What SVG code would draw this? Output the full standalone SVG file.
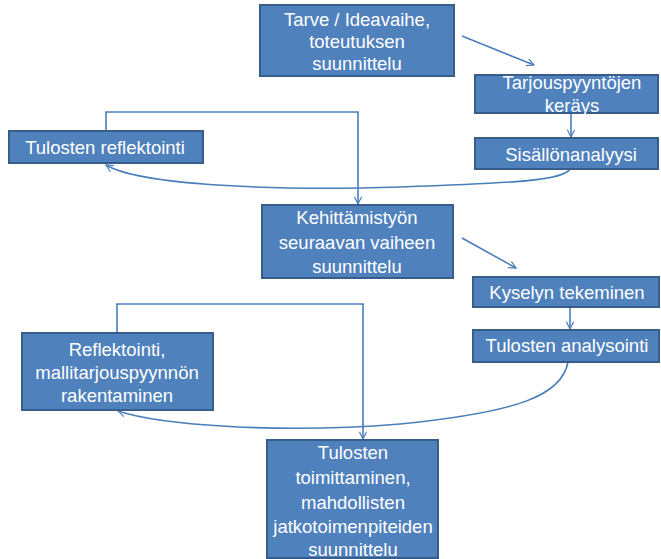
<svg xmlns="http://www.w3.org/2000/svg" width="661" height="559" viewBox="0 0 661 559">
<defs>
<marker id="arr" viewBox="0 0 10 10" refX="9" refY="5" markerWidth="9" markerHeight="9" markerUnits="userSpaceOnUse" orient="auto">
<path d="M1,1 L9,5 L1,9" fill="none" stroke="#4A7EBB" stroke-width="1.3"/>
</marker>
</defs>
<style>
.box{fill:#4F81BD;stroke:#385D8A;stroke-width:2}
.t{fill:#fff;font-family:"Liberation Sans",Arial,sans-serif;font-size:18.5px;text-anchor:middle}
.c{fill:none;stroke:#4A7EBB;stroke-width:1.6;marker-end:url(#arr)}
</style>
<rect width="661" height="559" fill="#fff"/>
<g id="connectors">
<path class="c" d="M462,36 L534,65"/>
<path class="c" d="M571,113 L571,137"/>
<path class="c" d="M570,169 C564,180 520,183 400,187 C270,191 140,185 106,165"/>
<path class="c" d="M106,131 L106,112 L358,112 L358,204"/>
<path class="c" d="M462,238 L516,268"/>
<path class="c" d="M570,307 L570,329"/>
<path class="c" d="M568,362 C562,395 520,412 400,424 C280,434 160,425 118,411"/>
<path class="c" d="M117,333 L117,304 L363,304 L363,439"/>
</g>
<g id="n1"><rect class="box" x="260" y="5" width="194" height="71"/>
<text class="t" x="357" y="26">Tarve / Ideavaihe,</text>
<text class="t" x="357" y="48">toteutuksen</text>
<text class="t" x="357" y="70">suunnittelu</text></g>
<g id="n2"><rect class="box" x="475" y="75" width="183" height="38"/>
<text class="t" x="572" y="89">Tarjouspyyntöjen</text>
<text class="t" x="572" y="112">keräys</text></g>
<g id="n3"><rect class="box" x="475" y="138" width="183" height="31"/>
<text class="t" x="571" y="161">Sisällönanalyysi</text></g>
<g id="n4"><rect class="box" x="9" y="131" width="194" height="32"/>
<text class="t" x="105" y="154">Tulosten reflektointi</text></g>
<g id="n5"><rect class="box" x="262" y="205" width="191" height="73"/>
<text class="t" x="357" y="224">Kehittämistyön</text>
<text class="t" x="357" y="249">seuraavan vaiheen</text>
<text class="t" x="357" y="273">suunnittelu</text></g>
<g id="n6"><rect class="box" x="473" y="277" width="186" height="30"/>
<text class="t" x="567" y="299">Kyselyn tekeminen</text></g>
<g id="n7"><rect class="box" x="473" y="330" width="186" height="32"/>
<text class="t" x="567" y="352">Tulosten analysointi</text></g>
<g id="n8"><rect class="box" x="22" y="333" width="191" height="77"/>
<text class="t" x="117" y="356">Reflektointi,</text>
<text class="t" x="117" y="379">mallitarjouspyynnön</text>
<text class="t" x="117" y="402">rakentaminen</text></g>
<g id="n9"><rect class="box" x="267" y="440" width="171" height="118"/>
<text class="t" x="353" y="459">Tulosten</text>
<text class="t" x="353" y="484">toimittaminen,</text>
<text class="t" x="353" y="509">mahdollisten</text>
<text class="t" x="353" y="533">jatkotoimenpiteiden</text>
<text class="t" x="353" y="556">suunnittelu</text></g>
</svg>
